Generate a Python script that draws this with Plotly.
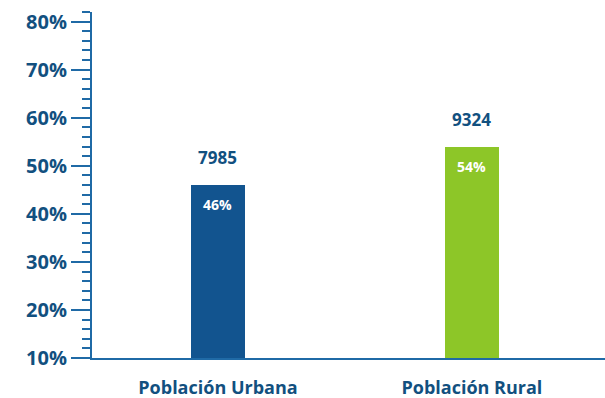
import plotly.graph_objects as go

# Population by area
categories = ["Población Urbana", "Población Rural"]
population = [7985, 9324]
share_pct = [46, 54]
bar_colors = ["#12548f", "#8dc628"]

# Percent axis ticks
tick_values = [10, 20, 30, 40, 50, 60, 70, 80]
tick_labels = ["10%", "20%", "30%", "40%", "50%", "60%", "70%", "80%"]

navy = "#12507f"
axis_blue = "#1f6aa6"
font_family = "Open Sans, DejaVu Sans, sans-serif"

fig = go.Figure(
    go.Bar(
        x=categories,
        y=share_pct,
        base=0,
        width=0.213,
        marker=dict(color=bar_colors, line=dict(width=0)),
        hoverinfo="skip",
    )
)

annotations = []
for cat, pop, pct in zip(categories, population, share_pct):
    annotations.append(dict(
        x=cat, y=pct, xref="x", yref="y", text=f"<b>{pop}</b>",
        showarrow=False, yanchor="bottom", yshift=14,
        font=dict(family=font_family, size=17, color=navy),
    ))
    annotations.append(dict(
        x=cat, y=pct, xref="x", yref="y", text=f"<b>{pct}%</b>",
        showarrow=False, yanchor="top", yshift=-8,
        font=dict(family=font_family, size=14, color="white"),
    ))

fig.update_layout(
    width=605, height=398,
    margin=dict(l=92, r=0, t=12, b=40),
    paper_bgcolor="white", plot_bgcolor="white",
    showlegend=False,
    bargap=0,
    annotations=annotations,
    xaxis=dict(
        range=[-0.496, 1.524],
        showline=True, linecolor=axis_blue, linewidth=2,
        ticks="", showgrid=False, zeroline=False,
        tickfont=dict(family=font_family, size=18, color=navy),
        ticklabelstandoff=12,
        tickvals=categories,
        ticktext=[f"<b>{c}</b>" for c in categories],
    ),
    yaxis=dict(
        range=[10, 82],
        showline=True, linecolor=axis_blue, linewidth=2,
        showgrid=False, zeroline=False,
        tickvals=tick_values,
        ticktext=[f"<b>{t}</b>" for t in tick_labels],
        ticks="outside", ticklen=19, tickwidth=2, tickcolor=axis_blue,
        tickfont=dict(family=font_family, size=20, color=navy),
        minor=dict(dtick=2, ticks="outside", ticklen=8, tickwidth=1.5,
                   tickcolor=axis_blue, showgrid=False),
    ),
)

fig.write_html("out.html")
